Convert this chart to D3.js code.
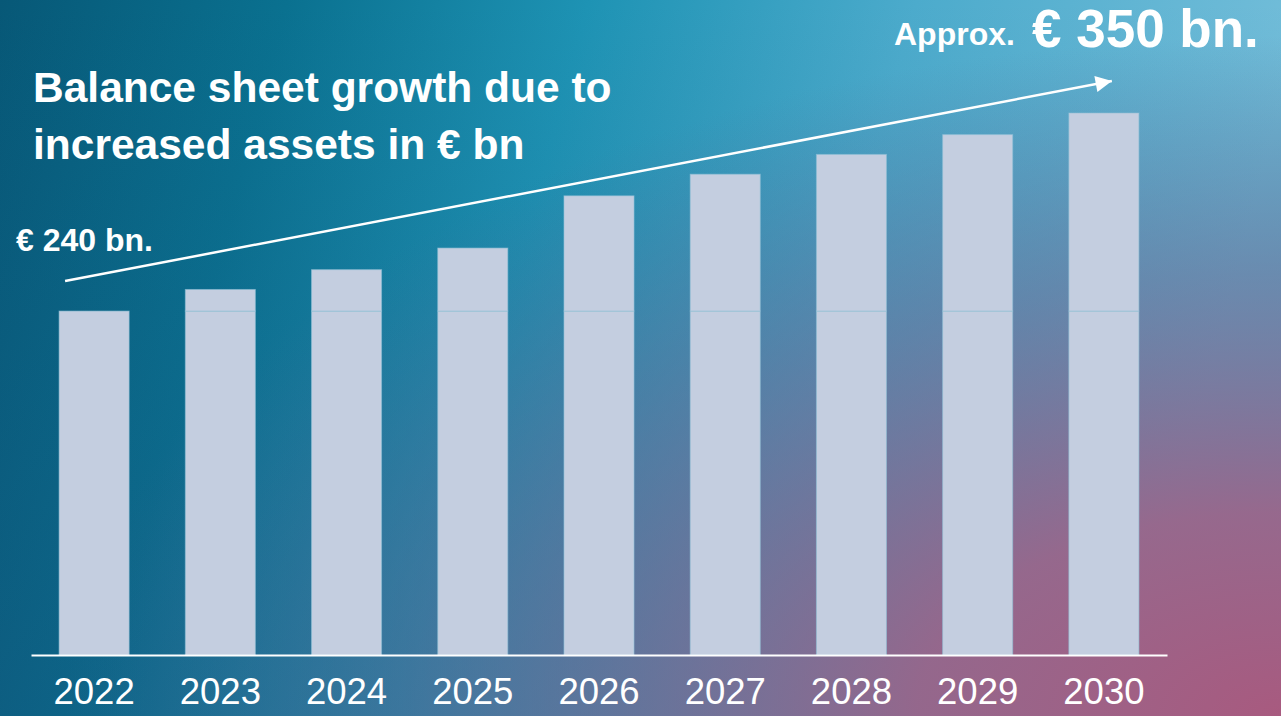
<!DOCTYPE html>
<html>
<head>
<meta charset="utf-8">
<script src="https://cdn.jsdelivr.net/npm/d3@7"></script>
<style>
  html, body { margin: 0; padding: 0; overflow: hidden; }
  svg { display: block; }
  text { font-family: "Liberation Sans", Arial, sans-serif; fill: #fff; }
</style>
</head>
<body>
<div id="chart"></div>
<script>
// Data
var years = ["2022", "2023", "2024", "2025", "2026", "2027", "2028", "2029", "2030"];
var totals = [240, 252, 263, 275, 304, 316, 327, 338, 350]; // € bn
var baseValue = 240;   // 2022 level, drawn as the lower part of every bar
var yFloor = 49;       // axis does not start at zero
var titleLines = ["Balance sheet growth due to", "increased assets in € bn"];
var startLabel = "€ 240 bn.";
var endPrefix = "Approx.";
var endLabel = "€ 350 bn.";

// Dimensions
var width = 1281;
var height = 716;
var margin = { left: 31, right: 114, baseline: 655 };
var barColor = "#c4cee0";

var svg = d3.select("#chart").append("svg")
  .attr("width", width)
  .attr("height", height);

// Background gradients
var defs = svg.append("defs");

var bg = defs.append("linearGradient")
  .attr("id", "bg")
  .attr("x1", 0).attr("y1", 0).attr("x2", 1).attr("y2", 0.15);
[[0, "#075877"], [0.22, "#0a7190"], [0.45, "#1e93b4"], [0.7, "#4cabcc"], [1, "#72bdd9"]]
  .forEach(function(s) { bg.append("stop").attr("offset", s[0]).attr("stop-color", s[1]); });

var pink = defs.append("radialGradient")
  .attr("id", "pink")
  .attr("cx", 1).attr("cy", 1).attr("r", 0.95);
[[0, "#a85a7f", 1], [0.3, "#9c6287", 0.9], [0.65, "#6a6c95", 0.55], [1, "#4a6a95", 0]]
  .forEach(function(s) {
    pink.append("stop").attr("offset", s[0]).attr("stop-color", s[1]).attr("stop-opacity", s[2]);
  });

var shade = defs.append("linearGradient")
  .attr("id", "shade")
  .attr("x1", 0).attr("y1", 0).attr("x2", 0).attr("y2", 1);
shade.append("stop").attr("offset", 0).attr("stop-color", "#1a3f70").attr("stop-opacity", 0);
shade.append("stop").attr("offset", 1).attr("stop-color", "#1a3f70").attr("stop-opacity", 0.25);

defs.append("marker")
  .attr("id", "head")
  .attr("viewBox", "0 0 10 10")
  .attr("refX", 10).attr("refY", 5)
  .attr("markerWidth", 7).attr("markerHeight", 6.5)
  .attr("markerUnits", "strokeWidth")
  .attr("orient", "auto")
  .append("path")
  .attr("d", "M0,0L10,5L0,10Z")
  .attr("fill", "#fff");

svg.append("rect").attr("width", width).attr("height", height).attr("fill", "url(#bg)");
svg.append("rect").attr("width", width).attr("height", height).attr("fill", "url(#shade)");
svg.append("rect").attr("width", width).attr("height", height).attr("fill", "url(#pink)");

// Scales
var xScale = d3.scaleBand()
  .domain(years)
  .range([margin.left, width - margin.right])
  .paddingInner(0.445)
  .paddingOuter(0.2225);

var yScale = d3.scaleLinear()
  .domain([yFloor, d3.max(totals)])
  .range([margin.baseline, 113]);

var data = years.map(function(y, i) { return { year: y, total: totals[i] }; });

// Bars: lower part (2022 level) and growth part
var bars = svg.append("g").classed("bars", true);

bars.selectAll("rect.base")
  .data(data)
  .enter().append("rect")
  .classed("base", true)
  .attr("x", function(d) { return xScale(d.year); })
  .attr("y", yScale(baseValue))
  .attr("width", xScale.bandwidth())
  .attr("height", margin.baseline - yScale(baseValue))
  .attr("fill", barColor)
  .attr("stroke", "#8fbfd6")
  .attr("stroke-opacity", 0.6)
  .attr("stroke-width", 1);

bars.selectAll("rect.growth")
  .data(data.filter(function(d) { return d.total > baseValue; }))
  .enter().append("rect")
  .classed("growth", true)
  .attr("x", function(d) { return xScale(d.year); })
  .attr("y", function(d) { return yScale(d.total); })
  .attr("width", xScale.bandwidth())
  .attr("height", function(d) { return yScale(baseValue) - yScale(d.total); })
  .attr("fill", barColor)
  .attr("stroke", "#8fbfd6")
  .attr("stroke-opacity", 0.6)
  .attr("stroke-width", 1);

// X axis
var xAxis = d3.axisBottom(xScale).tickSize(0).tickPadding(23);
var axis = svg.append("g")
  .classed("x axis", true)
  .attr("transform", "translate(0," + margin.baseline + ")")
  .call(xAxis);
axis.select(".domain").attr("stroke", "#fff").attr("stroke-width", 2);
axis.selectAll("text")
  .attr("fill", "#fff")
  .style("font-size", "36.5px")
  .style("font-family", "'Liberation Sans', Arial, sans-serif")
  .attr("dy", "0.71em");

// Growth arrow
var first = data[0];
var last = data[data.length - 1];
svg.append("line")
  .attr("x1", xScale(first.year) + 6)
  .attr("y1", yScale(first.total) - 30)
  .attr("x2", xScale(last.year) + 43)
  .attr("y2", yScale(last.total) - 32)
  .attr("stroke", "#fff")
  .attr("stroke-width", 2.5)
  .attr("marker-end", "url(#head)");

// Title
svg.append("text")
  .attr("x", 33)
  .attr("y", 102)
  .style("font-size", "42.5px")
  .style("font-weight", "bold")
  .selectAll("tspan")
  .data(titleLines)
  .enter().append("tspan")
  .attr("x", 33)
  .attr("dy", function(d, i) { return i ? 57 : 0; })
  .text(function(d) { return d; });

// Labels
svg.append("text")
  .attr("x", 16)
  .attr("y", 251)
  .style("font-size", "32px")
  .style("font-weight", "bold")
  .text(startLabel);

svg.append("text")
  .attr("x", 894)
  .attr("y", 45)
  .style("font-size", "32px")
  .style("font-weight", "bold")
  .text(endPrefix);

svg.append("text")
  .attr("x", 1032)
  .attr("y", 47)
  .style("font-size", "53px")
  .style("font-weight", "bold")
  .text(endLabel);
</script>
</body>
</html>
